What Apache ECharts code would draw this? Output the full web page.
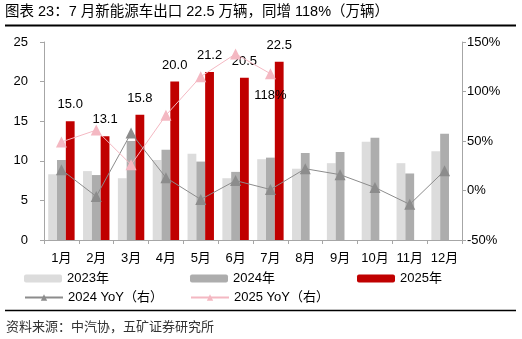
<!DOCTYPE html>
<html>
<head>
<meta charset="utf-8">
<script src="https://cdn.jsdelivr.net/npm/echarts@6/dist/echarts.min.js"></script>
<style>html,body{margin:0;padding:0;background:#fff}#c{width:522px;height:339px}</style>
</head>
<body>
<div id="c"></div>
<script>
const categories = ['1月','2月','3月','4月','5月','6月','7月','8月','9月','10月','11月','12月'];
const v2023 = [8.3, 8.7, 7.8, 10.1, 10.9, 7.8, 10.2, 9.0, 9.7, 12.4, 9.7, 11.2];
const v2024 = [10.1, 8.2, 12.5, 11.4, 9.9, 8.6, 10.4, 11.0, 11.1, 12.9, 8.4, 13.4];
const v2025 = [15.0, 13.1, 15.8, 20.0, 21.2, 20.5, 22.5, null, null, null, null, null];
const yoy2024 = [21, -6, 58, 13, -9, 10, 1, 22, 16, 3, -14, 20];
const yoy2025 = [49, 61, 26, 76, 115, 138, 118, null, null, null, null, null];
const leftTicks = {min: 0, max: 25, interval: 5};
const rightTicks = {min: -50, max: 150, interval: 50};
const titleText = '图表 23：7 月新能源车出口 22.5 万辆，同增 118%（万辆）';
const sourceText = '资料来源：中汽协，五矿证券研究所';

const FONT = '"Liberation Sans", Arial, "Noto Sans CJK SC", sans-serif';
const axisColor = '#A6A6A6';
const chart = echarts.init(document.getElementById('c'), null, {renderer: 'canvas'});

const yoy2025Data = yoy2025.map((v, i) => (i === 6 ? {
  value: v,
  label: {show: true, position: 'bottom', distance: 10, formatter: '{c}%', color: '#000', fontSize: 13, fontFamily: FONT}
} : v));

const legendBase = {padding: 0, itemWidth: 38, itemHeight: 8, itemGap: 0,
  textStyle: {fontSize: 13, color: '#000', fontFamily: FONT, padding: [0,0,0,0]}};

chart.setOption({
  animation: false,
  textStyle: {fontFamily: FONT},
  grid: {left: 44, right: 60, top: 42, bottom: 99},
  legend: [
    Object.assign({left: 24, top: 272, data: ['2023年']}, legendBase),
    Object.assign({left: 190, top: 272, data: ['2024年']}, legendBase),
    Object.assign({left: 357, top: 272, data: ['2025年']}, legendBase),
    Object.assign({left: 24, top: 291, data: ['2024 YoY（右）']}, legendBase),
    Object.assign({left: 190, top: 291, data: ['2025 YoY（右）']}, legendBase)
  ],
  xAxis: {
    type: 'category', data: categories,
    axisLine: {lineStyle: {color: axisColor}},
    axisTick: {show: true, length: 4, interval: 0, lineStyle: {color: axisColor}},
    axisLabel: {color: '#000', fontSize: 13, margin: 12, interval: 0, fontFamily: FONT}
  },
  yAxis: [
    Object.assign({type: 'value', position: 'left',
      axisLine: {show: true, lineStyle: {color: axisColor}},
      axisTick: {show: true, length: 4, lineStyle: {color: axisColor}},
      splitLine: {show: false},
      axisLabel: {color: '#000', fontSize: 13, margin: 16, fontFamily: FONT}}, leftTicks),
    Object.assign({type: 'value', position: 'right',
      axisLine: {show: true, lineStyle: {color: axisColor}},
      axisTick: {show: true, length: 4, lineStyle: {color: axisColor}},
      splitLine: {show: false},
      axisLabel: {color: '#000', fontSize: 13, margin: 5, formatter: '{value}%', fontFamily: FONT}}, rightTicks)
  ],
  series: [
    {name: '2023年', type: 'bar', data: v2023, barWidth: 8.8, barGap: '0%', itemStyle: {color: '#DCDCDC'}},
    {name: '2024年', type: 'bar', data: v2024, barWidth: 8.8, barGap: '0%', itemStyle: {color: '#ADADAD'}},
    {name: '2025年', type: 'bar', data: v2025, barWidth: 8.8, barGap: '0%', itemStyle: {color: '#C00000'},
      label: {show: true, position: 'top', distance: 10, color: '#000', fontSize: 13, fontFamily: FONT,
        formatter: p => p.value == null ? '' : p.value.toFixed(1)}},
    {name: '2024 YoY（右）', type: 'line', yAxisIndex: 1, data: yoy2024, symbol: 'triangle', symbolSize: 11,
      lineStyle: {color: '#8C8C8C', width: 1}, itemStyle: {color: '#8C8C8C'}, z: 5},
    {name: '2025 YoY（右）', type: 'line', yAxisIndex: 1, data: yoy2025Data, symbol: 'triangle', symbolSize: 11,
      lineStyle: {color: '#F4B8C2', width: 1}, itemStyle: {color: '#F4B8C2'}, z: 5}
  ],
  graphic: [
    {type: 'text', left: 5, top: 5, style: {text: titleText, font: '14.5px ' + FONT, fill: '#000'}},
    {type: 'line', shape: {x1: 5, y1: 25.5, x2: 516, y2: 25.5}, style: {stroke: '#000', lineWidth: 2}},
    {type: 'line', shape: {x1: 5, y1: 310.5, x2: 516, y2: 310.5}, style: {stroke: '#000', lineWidth: 1.5}},
    {type: 'text', left: 6, top: 321, style: {text: sourceText, font: '13px ' + FONT, fill: '#333'}}
  ]
});
</script>
</body>
</html>
